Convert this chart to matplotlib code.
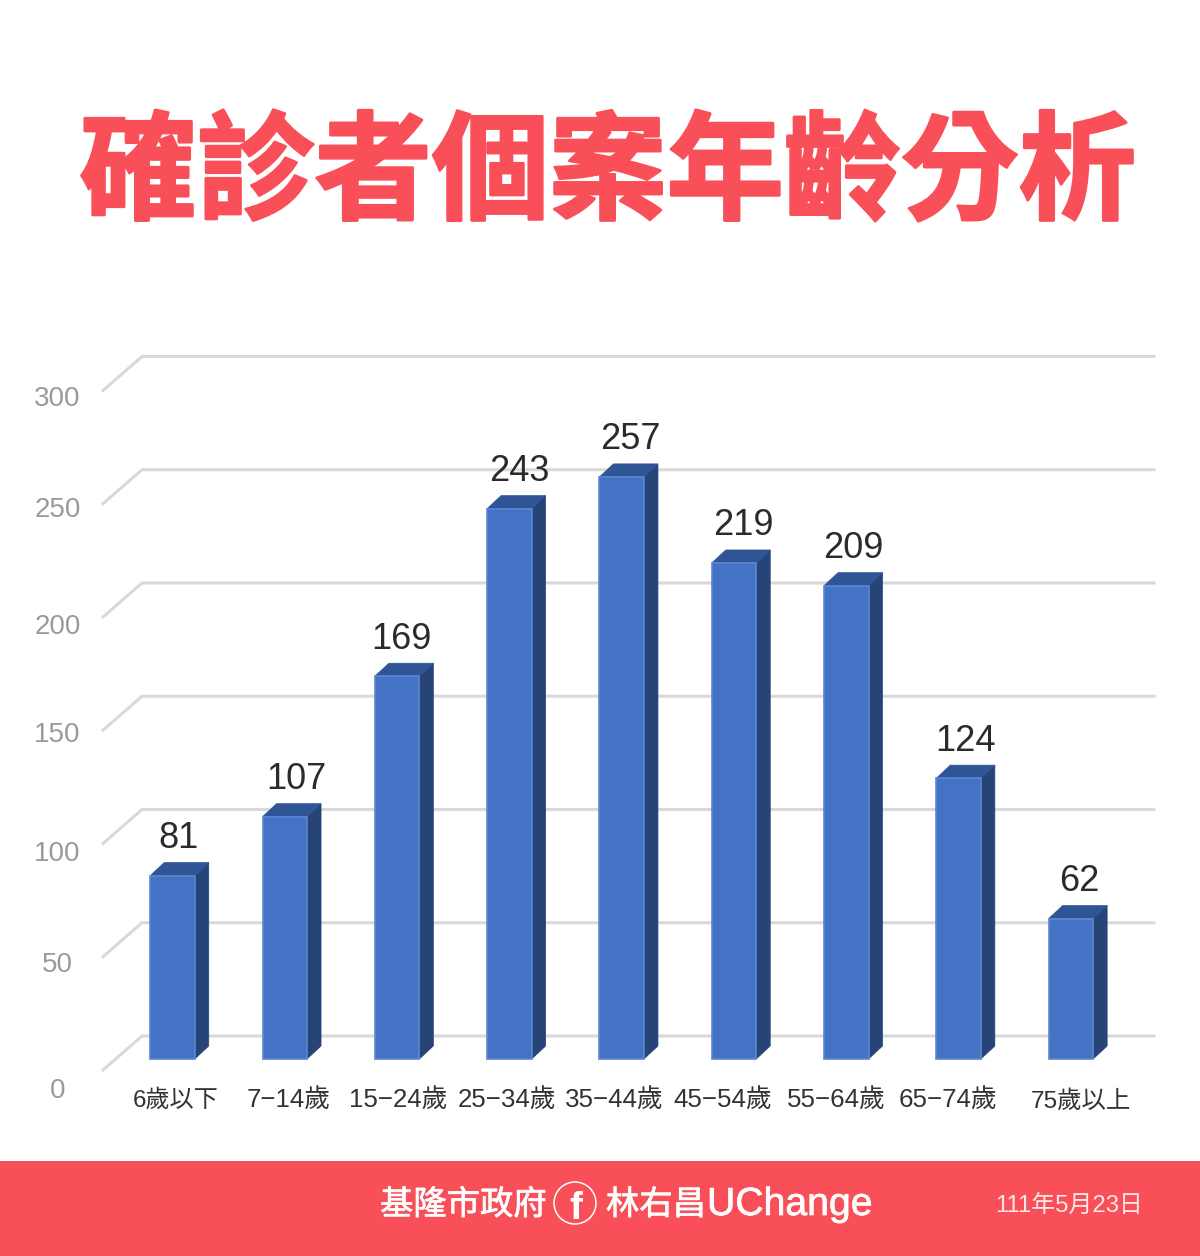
import matplotlib
matplotlib.use("Agg")
import matplotlib.pyplot as plt
import matplotlib.patheffects as pe
from matplotlib.patches import Polygon, Rectangle, Circle

categories = ["6歲以下", "7−14歲", "15−24歲", "25−34歲", "35−44歲", "45−54歲", "55−64歲", "65−74歲", "75歲以上"]
values = [81, 107, 169, 243, 257, 219, 209, 124, 62]
y_ticks = [0, 50, 100, 150, 200, 250, 300]

# layout (pixels)
W, H = 1200, 1256
X0, DX = 172.5, 112.3      # first bar centre, bar spacing
Y0, SY = 1059.0, 2.265     # baseline pixel, pixels per unit
BAR_PX = 44.5
DEPTH_X, DEPTH_Y = 14, 13
tick_y_px = [1091, 965, 854, 735, 627, 510, 399]
cat_x_px = [176, 288.5, 398.5, 507.5, 614, 722.5, 836.5, 948.5, 1080.5]
cat_size = [17.4, 18.6, 18.6, 18.6, 18.6, 18.6, 18.6, 18.6, 17.6]
label_x_shift = [6, 12, 4, 10, 9, 9, 7, 7, 8]

RED = "#F94F59"
LATIN_CJK = ["Liberation Sans", "Noto Sans CJK TC"]

fig = plt.figure(figsize=(W / 100, H / 100), dpi=100, facecolor="white")

# decorative pixel-space layer
deco = fig.add_axes([0, 0, 1, 1], zorder=3)
deco.set_xlim(0, W); deco.set_ylim(H, 0); deco.axis("off")
deco.patch.set_alpha(0)

# chart layer: x = category index, y = value
ax = fig.add_axes([0, 0, 1, 1], zorder=2)
ax.set_xlim((0 - X0) / DX, (W - X0) / DX)
ax.set_ylim((Y0 - H) / SY, Y0 / SY)
ax.axis("off")
ax.patch.set_alpha(0)

bw = BAR_PX / DX
dx = DEPTH_X / DX
dy = DEPTH_Y / SY

# grid: back wall + slanted floor segment
back_x0 = (142 - X0) / DX
back_x1 = (1154 - X0) / DX
front_x = (103 - X0) / DX
for v in y_ticks:
    back = v + (Y0 - 1036) / SY
    front = v + (Y0 - 1070) / SY
    ax.plot([front_x, back_x0, back_x1], [front, back, back], color="#D9D9D9",
            lw=2.2, solid_joinstyle="miter", zorder=1)

for i, (c, v) in enumerate(zip(categories, values)):
    l, r = i - bw / 2, i + bw / 2
    ax.add_patch(Polygon([(r, 0), (r + dx, dy), (r + dx, v + dy), (r, v)],
                         fc="#264478", ec="#264478", lw=0.5, zorder=2))
    ax.add_patch(Polygon([(l, v), (r, v), (r + dx, v + dy), (l + dx, v + dy)],
                         fc="#2F5597", ec="#2F5597", lw=0.5, zorder=2))
    ax.bar(i, v, width=bw, color="#4472C4", edgecolor="#5B86CF", lw=1.2, zorder=3)
    ax.text(i + label_x_shift[i] / DX, v + 37 / SY, str(v), ha="center", va="center",
            fontsize=26, color="#2B2B2B", family=LATIN_CJK, zorder=4)
    deco.text(cat_x_px[i], 1101, c, ha="center", va="center", fontsize=cat_size[i],
              color="#333333", family=LATIN_CJK)

for v, py in zip(y_ticks, tick_y_px):
    deco.text(57.5, py, str(v), ha="center", va="center", fontsize=20,
              color="#9A9A9A", family=LATIN_CJK)

# title
t = deco.text(608, 176, "確診者個案年齡分析", ha="center", va="center", fontsize=84.5,
              color=RED, family="Noto Sans CJK TC", weight="black")
t.set_path_effects([pe.withStroke(linewidth=2, foreground=RED)])

# footer
deco.add_patch(Rectangle((0, 1161), W, 95, fc=RED, ec="none"))
bold = [pe.withStroke(linewidth=0.5, foreground="white")]
a = deco.text(380, 1205, "基隆市政府", ha="left", va="center", fontsize=24,
              color="white", family="Noto Sans CJK TC")
a.set_path_effects(bold)
b = deco.text(606, 1205, "林右昌", ha="left", va="center", fontsize=24,
              color="white", family="Noto Sans CJK TC")
b.set_path_effects(bold)
u = deco.text(707, 1205, "UChange", ha="left", va="center", fontsize=28.2,
              color="white", family="Liberation Sans")
u.set_path_effects(bold)
circ = Circle((575, 1203), 21, fc="none", ec="white", lw=1.1)
deco.add_patch(circ)
f = deco.text(576, 1209, "f", ha="center", va="center", fontsize=28, color="white",
              family="Liberation Sans", weight="bold")
f.set_clip_path(Circle((575, 1203), 21, transform=deco.transData))
deco.text(1069.5, 1207, "111年5月23日", ha="center", va="center", fontsize=17.2,
          color="#FFE6E8", family=LATIN_CJK)

fig.savefig("out.png", dpi=100)
